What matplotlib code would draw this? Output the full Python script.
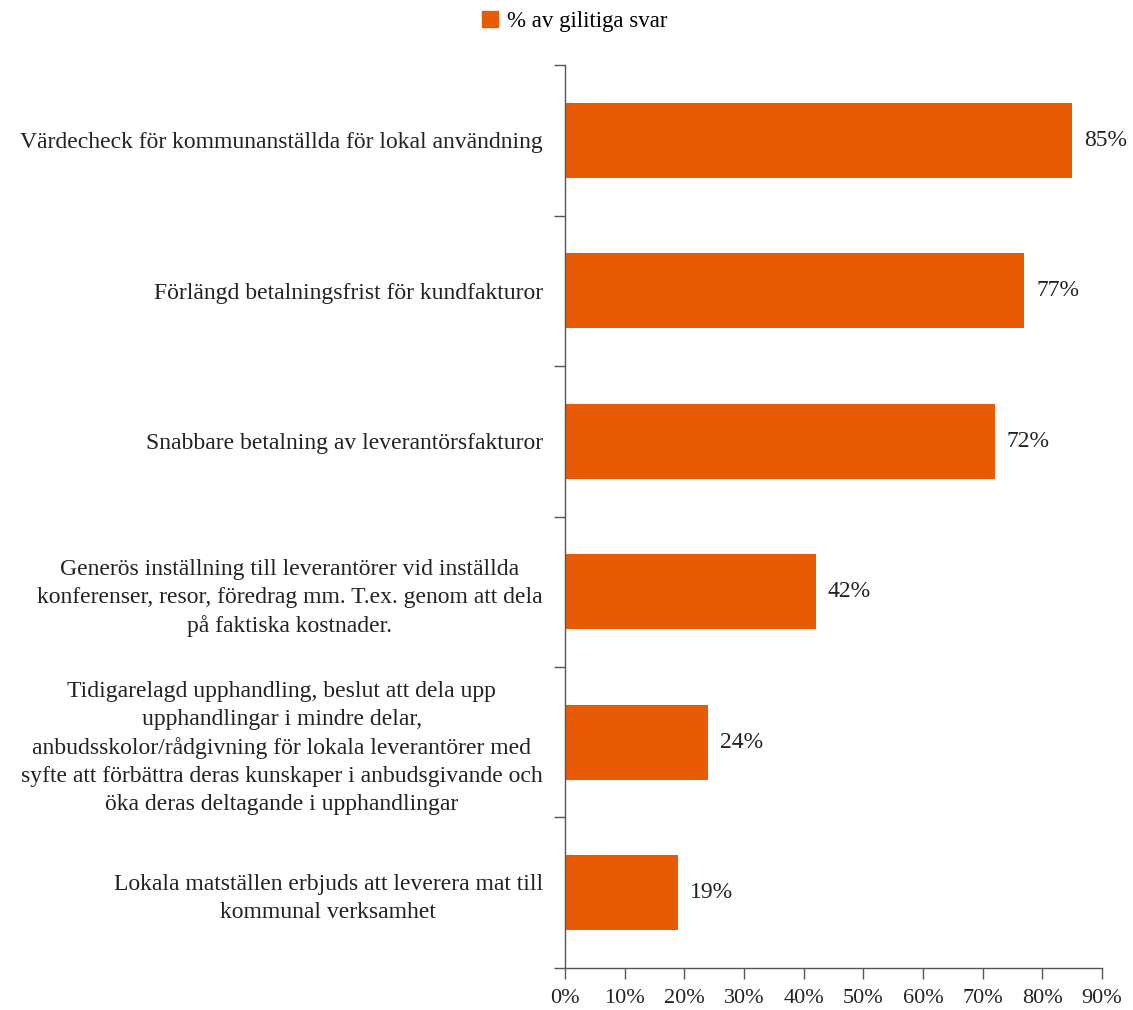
import matplotlib.pyplot as plt
from matplotlib.patches import Patch

# -----------------------------
# Data
# -----------------------------
CATEGORIES = [
    "Värdecheck för kommunanställda för lokal användning",
    "Förlängd betalningsfrist för kundfakturor",
    "Snabbare betalning av leverantörsfakturor",
    "Generös inställning till leverantörer vid inställda\n"
    "konferenser, resor, föredrag mm. T.ex. genom att dela\n"
    "på faktiska kostnader.",
    "Tidigarelagd upphandling, beslut att dela upp\n"
    "upphandlingar i mindre delar,\n"
    "anbudsskolor/rådgivning för lokala leverantörer med\n"
    "syfte att förbättra deras kunskaper i anbudsgivande och\n"
    "öka deras deltagande i upphandlingar",
    "Lokala matställen erbjuds att leverera mat till\n"
    "kommunal verksamhet",
]
VALUES = [85, 77, 72, 42, 24, 19]
X_TICKS = [0, 10, 20, 30, 40, 50, 60, 70, 80, 90]
SERIES_LABEL = "% av gilitiga svar"

BAR_COLOR = "#E85A03"
TEXT_COLOR = "#222222"
FONT = "Liberation Serif"


def main():
    plt.rcParams["font.family"] = FONT
    fig = plt.figure(figsize=(11.33, 10.10), dpi=100)
    ax = fig.add_axes([0.4987, 0.0416, 0.4739, 0.894])

    n = len(CATEGORIES)
    ypos = list(range(n))
    ax.barh(ypos, VALUES, height=0.5, color=BAR_COLOR, zorder=2)
    ax.set_ylim(n - 0.5, -0.5)
    ax.set_xlim(0, 90)

    # value labels
    for y, v in zip(ypos, VALUES):
        ax.text(v + 2, y, f"{v}%", va="center", ha="left", fontsize=17, color=TEXT_COLOR)

    # category labels at bar centres, tick marks at category boundaries
    ax.set_yticks(ypos)
    ax.set_yticklabels(CATEGORIES, fontsize=17, color=TEXT_COLOR)
    for lbl in ax.get_yticklabels():
        lbl.set_multialignment("center")
        lbl.set_linespacing(1.43)
    ax.tick_params(axis="y", which="major", length=0, pad=16)
    ax.set_yticks([i - 0.5 for i in range(n + 1)], minor=True)
    ax.tick_params(axis="y", which="minor", length=8, width=1, color="#555555", direction="out")

    ax.set_xticks(X_TICKS)
    ax.set_xticklabels([f"{t}%" for t in X_TICKS], fontsize=16, color=TEXT_COLOR)
    ax.tick_params(axis="x", length=8, width=1, color="#555555", direction="out", pad=7)

    for side in ["top", "right"]:
        ax.spines[side].set_visible(False)
    for side in ["left", "bottom"]:
        ax.spines[side].set_color("#555555")
        ax.spines[side].set_linewidth(1)

    fig.legend(handles=[Patch(color=BAR_COLOR, label=SERIES_LABEL)],
               loc="center", bbox_to_anchor=(0.507, 0.979), frameon=False,
               fontsize=16.5, handlelength=0.7, handleheight=0.7, handletextpad=0.4)

    fig.savefig("out.png", dpi=100)
    plt.close(fig)


if __name__ == "__main__":
    main()
